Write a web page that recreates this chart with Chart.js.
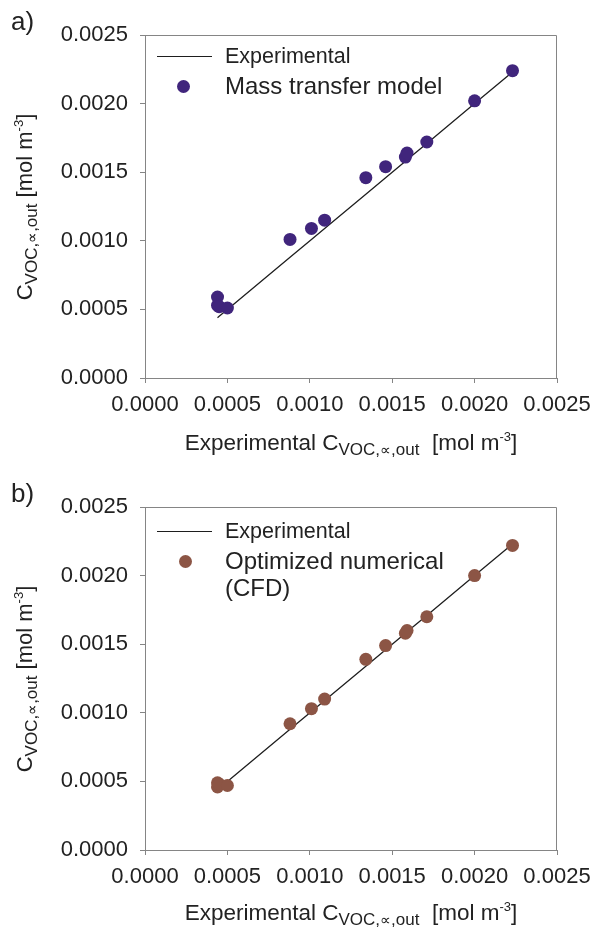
<!DOCTYPE html>
<html>
<head>
<meta charset="utf-8">
<script src="https://cdn.jsdelivr.net/npm/chart.js@4.4.1/dist/chart.umd.min.js"></script>
<style>
  html, body { margin: 0; padding: 0; background: #fff; }
  body { width: 595px; height: 943px; position: relative; overflow: hidden;
         font-family: "Liberation Sans", Arial, sans-serif; color: #222; }
  .panel { position: absolute; left: 0; width: 595px; height: 471px; }
  .panel canvas { position: absolute; left: 0; top: 0; }
  .tag { position: absolute; left: 11px; top: 6px; font-size: 26px; }
  .xt { position: absolute; left: 351px; top: 443px; transform: translate(-50%, -50%);
        font-size: 22.5px; white-space: nowrap; }
  .yt { position: absolute; left: 25px; top: 207px; transform: translate(-50%, -50%) rotate(-90deg);
        font-size: 22px; white-space: nowrap; }
  sub { font-size: 17px; vertical-align: -5px; line-height: 0; }
  sub i { font-size: 15px; font-style: normal; }
  sup { font-size: 13px; vertical-align: 9px; line-height: 0; }
  .lg { position: absolute; white-space: pre-line; line-height: 27px; }
  .lg-line { position: absolute; height: 1.4px; width: 55px; }
  .lg-dot { position: absolute; width: 13px; height: 13px; border-radius: 50%; }
</style>
</head>
<body>

<div class="panel" style="top:0">
  <canvas id="chartA" width="595" height="471"></canvas>
  <div class="tag">a)</div>
  <div class="yt">C<sub>VOC,<i>∝</i>,out</sub> [mol m<sup>-3</sup>]</div>
  <div class="xt">Experimental C<sub>VOC,<i>∝</i>,out</sub>&nbsp; [mol m<sup>-3</sup>]</div>
  <div id="legA"></div>
</div>

<div class="panel" style="top:472px">
  <canvas id="chartB" width="595" height="471"></canvas>
  <div class="tag">b)</div>
  <div class="yt">C<sub>VOC,<i>∝</i>,out</sub> [mol m<sup>-3</sup>]</div>
  <div class="xt" style="top:441px">Experimental C<sub>VOC,<i>∝</i>,out</sub>&nbsp; [mol m<sup>-3</sup>]</div>
  <div id="legB"></div>
</div>

<script>
// measured outlet concentrations [mol m-3]
const experimental = [0.00044, 0.00044, 0.00045, 0.00050, 0.00088, 0.00101, 0.00109,
                      0.00134, 0.00146, 0.00158, 0.00159, 0.00171, 0.00200, 0.00223];
// a) mass transfer model predictions
const massTransfer = [0.00059, 0.00053, 0.00052, 0.00051, 0.00101, 0.00109, 0.00115,
                      0.00146, 0.00154, 0.00161, 0.00164, 0.00172, 0.00202, 0.00224];
// b) optimized CFD predictions
const cfd = [0.00049, 0.00046, 0.00048, 0.00047, 0.00092, 0.00103, 0.00110,
             0.00139, 0.00149, 0.00158, 0.00160, 0.00170, 0.00200, 0.00222];
const tickValues = [0, 0.0005, 0.0010, 0.0015, 0.0020, 0.0025];

const axisGray = '#858585';
const tickFont = { family: 'Liberation Sans, Arial, sans-serif', size: 22 };

// top and right lines of the plot box
const frame = {
    id: 'frame',
    afterDraw(chart) {
        const { ctx, chartArea: a } = chart;
        ctx.save();
        ctx.strokeStyle = axisGray;
        ctx.lineWidth = 1;
        ctx.beginPath();
        ctx.moveTo(a.left, a.top + 0.5);
        ctx.lineTo(a.right - 0.5, a.top + 0.5);
        ctx.lineTo(a.right - 0.5, a.bottom);
        ctx.stroke();
        ctx.restore();
    }
};

function axis(pad, extra) {
    return Object.assign({
        min: 0,
        max: 0.0025,
        afterBuildTicks: s => { s.ticks = tickValues.map(v => ({ value: v })); },
        ticks: {
            color: '#222',
            font: tickFont,
            padding: pad,
            callback: v => v.toFixed(4)
        },
        grid: { drawOnChartArea: false, tickLength: 5, color: axisGray },
        border: { color: axisGray }
    }, extra);
}

function makeChart(id, label, values, color) {
    return new Chart(document.getElementById(id).getContext('2d'), {
        type: 'scatter',
        data: {
            datasets: [{
                label: 'Experimental',
                data: experimental.map(v => ({ x: v, y: v })),
                showLine: true,
                borderColor: '#1e1e1e',
                borderWidth: 1.3,
                pointRadius: 0,
                order: 2
            }, {
                label: label,
                data: experimental.map((v, i) => ({ x: v, y: values[i] })),
                backgroundColor: color,
                borderColor: color,
                borderWidth: 0,
                pointRadius: 6.5,
                order: 1
            }]
        },
        options: {
            responsive: false,
            animation: false,
            layout: { padding: { top: 35, right: 38, left: 0, bottom: 0 } },
            plugins: {
                legend: { display: false },
                tooltip: { enabled: false }
            },
            scales: {
                x: axis(9, { afterFit: s => { s.height = 93; s.paddingLeft = 0; s.paddingRight = 0; } }),
                y: axis(12, { afterFit: s => { s.width = 145; s.paddingTop = 0; s.paddingBottom = 0; } })
            }
        },
        plugins: [frame]
    });
}

// legend drawn inside the plot, from the dataset labels/colours
function legend(chart, boxId, pos) {
    const box = document.getElementById(boxId);
    const [line, pts] = chart.data.datasets;
    box.innerHTML =
        `<div class="lg-line" style="left:157px;top:${pos.lineY}px;background:${line.borderColor}"></div>` +
        `<div class="lg" style="left:225px;top:${pos.lineY - 13}px;font-size:21.5px">${line.label}</div>` +
        `<div class="lg-dot" style="left:${pos.dotX - 6.5}px;top:${pos.dotY - 6.5}px;background:${pts.backgroundColor}"></div>` +
        `<div class="lg" style="left:225px;top:${pos.dotY - 14}px;font-size:24px">${pts.label}</div>`;
}

const chartA = makeChart('chartA', 'Mass transfer model', massTransfer, '#40257c');
const chartB = makeChart('chartB', 'Optimized numerical\n(CFD)', cfd, '#8c5545');

legend(chartA, 'legA', { lineY: 56, dotX: 183.5, dotY: 86 });
legend(chartB, 'legB', { lineY: 59, dotX: 185, dotY: 89 });
</script>
</body>
</html>
